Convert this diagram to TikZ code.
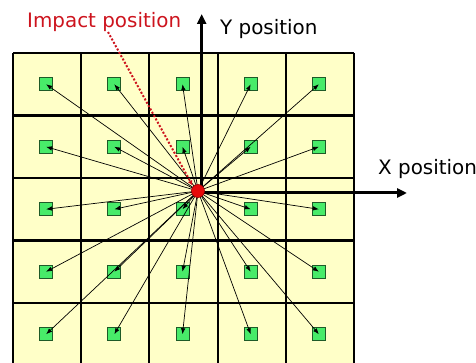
\documentclass[tikz,border=0pt]{standalone}
\usepackage{fontspec}
\setmainfont{DejaVu Sans}
\usetikzlibrary{arrows.meta}
\definecolor{cellfill}{RGB}{255,255,200}
\definecolor{sqgreen}{RGB}{72,235,105}
\definecolor{sqedge}{RGB}{30,90,40}
\definecolor{impred}{RGB}{205,20,30}
\definecolor{dotred}{RGB}{230,10,10}
\begin{document}
\begin{tikzpicture}[x=1pt,y=-1pt,
  gridline/.style={line width=2.1pt,black},
  sq/.style={rectangle,draw=sqedge,line width=0.8pt,fill=sqgreen,minimum size=13pt,inner sep=0pt},
  ray/.style={line width=0.7pt,black,-{Latex[length=6pt,width=4.5pt]}},
  axisline/.style={line width=3pt,black,-{Triangle[length=10pt,width=9pt]}},
  lbl/.style={anchor=base west,inner sep=0pt,font=\fontsize{19.9}{22}\selectfont},
  impactdot/.style={circle,minimum size=13pt,inner sep=0pt,fill=dotred,draw=red!60!black,line width=0.6pt}]
\useasboundingbox (0,0) rectangle (476,363);
\begin{scope}
  \clip (0,0) rectangle (476,363);
  \fill[cellfill] (13,53) rectangle (354,365.5);
  \foreach \i in {0,...,5} \draw[gridline] (13+68.2*\i,53) -- (13+68.2*\i,365.5);
  \foreach \j in {0,...,5} \draw[gridline] (13,53+62.5*\j) -- (354,53+62.5*\j);
\end{scope}
% squares
\foreach \i in {1,...,5} {
  \foreach \j in {1,...,5} {
    \node[sq] (s\i\j) at ({13+68.2*(\i-0.5)-1},{53+62.5*(\j-0.5)}) {};
  }
}
% axes
\coordinate (ax) at (201.7,193);
\coordinate (ytip) at (201.7,14);
\coordinate (xtip) at (407,193);
\draw[axisline] (ax) -- (ytip);
\draw[axisline] (ax) -- (xtip);
% rays
\coordinate (o) at (198,191);
\foreach \i in {1,...,5} {
  \foreach \j in {1,...,5} {
    \draw[ray] (o) -- (s\i\j.center);
  }
}
% labels
\node[lbl,text=impred] (impact) at (27,27.3) {Impact position};
\node[lbl] (ylab) at (220,35) {Y position};
\node[lbl] (xlab) at (378,175) {X position};
% dotted pointer
\coordinate (dstart) at (108,32);
\coordinate (dend) at (192.5,185.5);
\draw[impred,line width=2pt,dash pattern=on 2pt off 1.8pt,-{Latex[length=5pt,width=5pt]}] (dstart) -- (dend);
% impact dot
\node[impactdot] (dot) at (o) {};
\end{tikzpicture}
\end{document}
